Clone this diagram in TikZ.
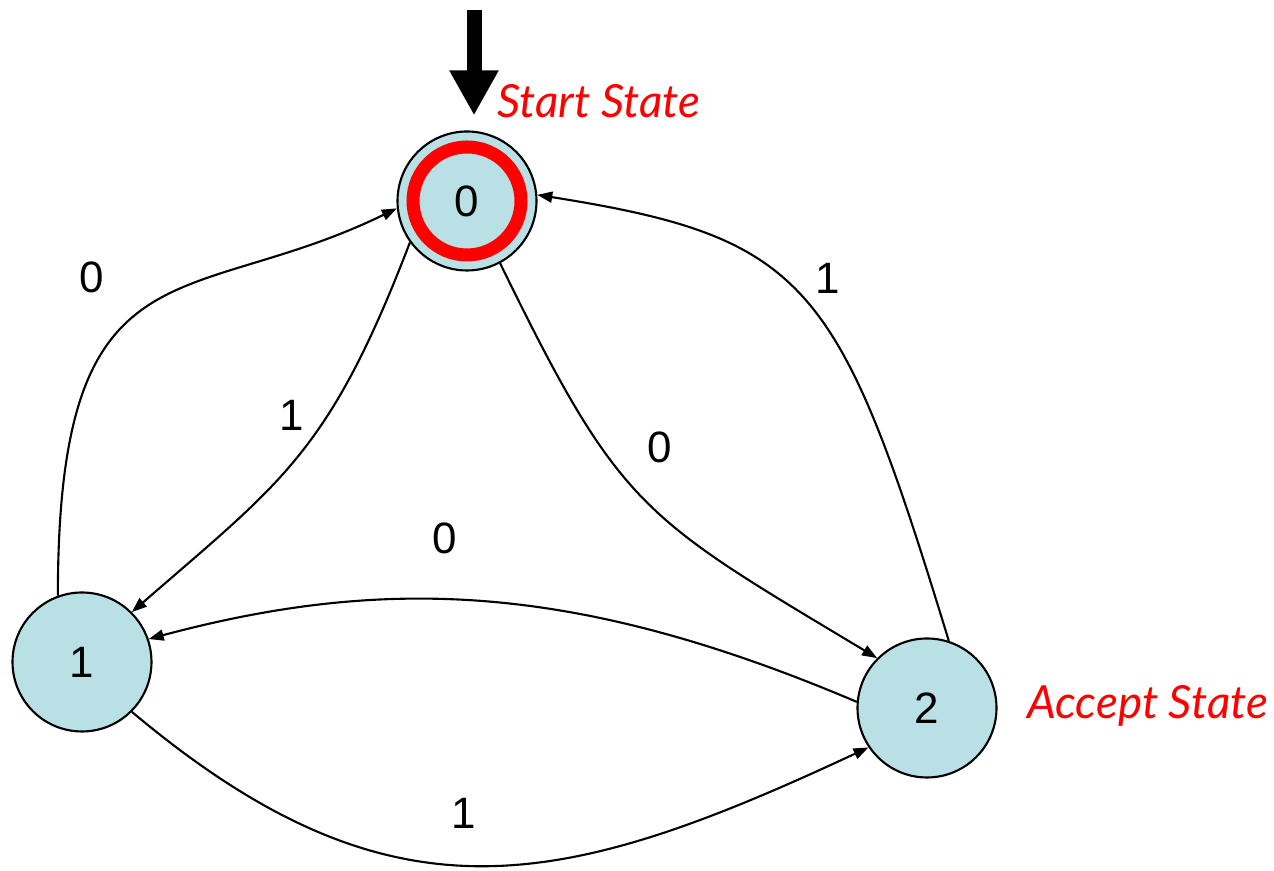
\documentclass[tikz,border=0pt]{standalone}
\usepackage{fontspec}
\setmainfont{Liberation Sans}
\newfontfamily\captionfont{Lato}
\usetikzlibrary{arrows.meta, positioning}
\definecolor{statefill}{RGB}{185,224,228}
\definecolor{markred}{RGB}{255,0,0}
\tikzset{
  state/.style={circle, draw=black, line width=1.2pt, fill=statefill,
    minimum size=2.78cm, inner sep=0pt, font=\fontsize{25}{30}\selectfont},
  trans/.style={-{Triangle[length=0.3cm, width=0.22cm]}, line width=1.2pt},
  translabel/.style={inner sep=0pt, font=\fontsize{25}{30}\selectfont},
  note/.style={inner sep=0pt, text=markred,
    font=\captionfont\itshape\fontsize{26}{31}\selectfont},
  startarrow/.style={-{Triangle[length=0.9cm, width=0.92cm]}, line width=0.3cm},
}
\begin{document}
\begin{tikzpicture}
  \useasboundingbox (0,0) rectangle (25.48,17.42);
  % states
  \node[state] (s0) at (9.34,13.40) {0};
  \node[state] (s1) at (1.64,4.18) {1};
  \node[state] (s2) at (18.54,3.26) {2};
  \draw[markred, line width=0.26cm] (s0) circle (1.08cm);
  % start marker
  \coordinate (init) at (9.48,17.22);
  \draw[startarrow, shorten >=0.3cm] (init) -- (init |- s0.north);
  \node[note, anchor=base west] (startlbl) at (9.94,15.06) {Start State};
  \node[note, anchor=base west] (acceptlbl) at (20.54,3.04) {Accept State};
  % transitions
  \draw[trans] (s1.110) .. controls +(90:7.2) and +(206:4.7) .. (s0.186);
  \draw[trans] (s0.216) .. controls +(249:4.5) and +(41:4) .. (s1.45);
  \draw[trans] (s0.298) .. controls +(296:5.5) and +(149:5.5) .. (s2.135);
  \draw[trans] (s2.72) .. controls +(107:7.5) and +(351:5.5) .. (s0.5);
  \draw[trans] (s2.175) .. controls +(157:6) and +(15:5) .. (s1.19);
  \draw[trans] (s1.315) .. controls +(320:6.8) and +(205:6.8) .. (s2.214);
  % transition labels
  \node[translabel] (l10) at (1.84,11.88) {0};
  \node[translabel] (l01) at (5.84,9.12) {1};
  \node[translabel] (l02) at (13.20,8.48) {0};
  \node[translabel] (l20) at (16.56,11.86) {1};
  \node[translabel] (l21) at (8.90,6.66) {0};
  \node[translabel] (l12) at (9.28,1.16) {1};
\end{tikzpicture}
\end{document}
